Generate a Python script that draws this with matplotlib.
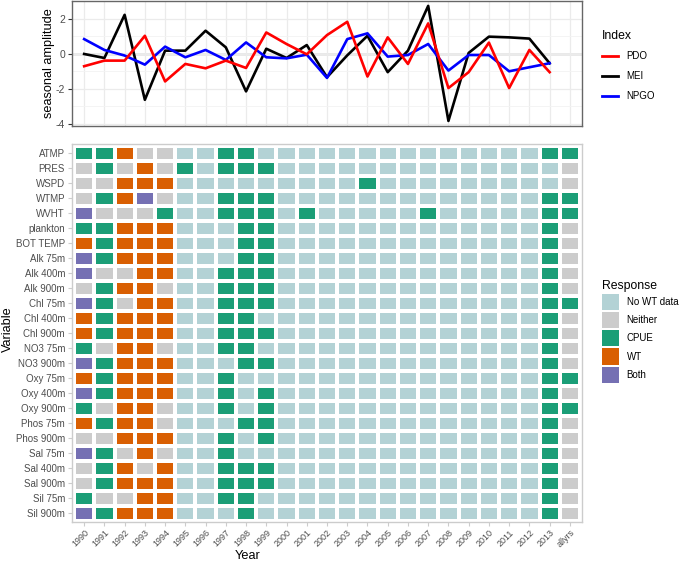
import numpy as np
import matplotlib
matplotlib.use("Agg")
import matplotlib.pyplot as plt
from matplotlib.colors import ListedColormap
from matplotlib.lines import Line2D
from matplotlib.patches import Patch

plt.rcParams['font.family'] = ['Liberation Sans', 'DejaVu Sans']
plt.rcParams['axes.unicode_minus'] = False

# ---- data ----
years = list(range(1990, 2014))
year_labels = [str(y) for y in years] + ['allyrs']

pdo = [-0.70, -0.38, -0.38, 1.04, -1.57, -0.57, -0.82, -0.38, -0.80, 1.23, 0.57, -0.02,
       1.08, 1.84, -1.29, 0.95, -0.57, 1.75, -1.95, -1.04, 0.65, -1.95, 0.23, -1.04]
mei = [0.00, -0.23, 2.24, -2.62, 0.19, 0.19, 1.33, 0.38, -2.14, 0.30, -0.23, 0.51,
       -1.33, -0.08, 1.04, -1.04, 0.19, 2.75, -3.83, 0.06, 0.99, 0.95, 0.88, -0.53]
npgo = [0.85, 0.23, -0.09, -0.61, 0.42, -0.19, 0.23, -0.34, 0.66, -0.19, -0.25, -0.04,
        -1.37, 0.85, 1.18, -0.15, -0.06, 0.57, -0.95, -0.06, -0.06, -0.99, -0.76, -0.53]

variables = ['ATMP', 'PRES', 'WSPD', 'WTMP', 'WVHT', 'plankton', 'BOT TEMP',
             'Alk 75m', 'Alk 400m', 'Alk 900m', 'Chl 75m', 'Chl 400m', 'Chl 900m',
             'NO3 75m', 'NO3 900m', 'Oxy 75m', 'Oxy 400m', 'Oxy 900m', 'Phos 75m',
             'Phos 900m', 'Sal 75m', 'Sal 400m', 'Sal 900m', 'Sil 75m', 'Sil 900m']

# one code per year column (1990..2013, allyrs)
# N = No WT data, X = Neither, C = CPUE, W = WT, B = Both
responses = [
    'CCWXX NNCCNN NNNNNNNNNNNN CC',
    'XCXWX CNCCCN NNNNNNNNNNNN NX',
    'XXWWW NNNNNN NNNCNNNNNNNN NX',
    'XCWBX NNCCCN NNNNNNNNNNNN CC',
    'BXXXC NNCCCN CNNNNNCNNNNN CC',
    'CCWWW NNNCCN NNNNNNNNNNNN CX',
    'WCWWW NNNCCN NNNNNNNNNNNN CX',
    'BCWWW NNNCCN NNNNNNNNNNNN CX',
    'BXXWW NNCCCN NNNNNNNNNNNN CX',
    'XCWWX NNCCCN NNNNNNNNNNNN CX',
    'BCXWW NNCCCN NNNNNNNNNNNN CC',
    'WCWWW NNCCNN NNNNNNNNNNNN CX',
    'WCWWW NNCCCN NNNNNNNNNNNN CX',
    'CXWWX NNCCNN NNNNNNNNNNNN CX',
    'BCWWW NNNCCN NNNNNNNNNNNN CX',
    'WCWWW NNCNNN NNNNNNNNNNNN CC',
    'BCWWW NNCNCN NNNNNNNNNNNN CX',
    'CXWWX NNCNCN NNNNNNNNNNNN CC',
    'WCWWX NNNCCN NNNNNNNNNNNN CX',
    'XXWWW NNCNCN NNNNNNNNNNNN CX',
    'BCXWX NNCNNN NNNNNNNNNNNN CX',
    'XCWXW NNCCCN NNNNNNNNNNNN CX',
    'XCWWW NNCCCN NNNNNNNNNNNN CX',
    'CXXWW NNCCNN NNNNNNNNNNNN CX',
    'BCWWW NNNCNN NNNNNNNNNNNN CX',
]

resp_codes = ['N', 'X', 'C', 'W', 'B']
resp_labels = ['No WT data', 'Neither', 'CPUE', 'WT', 'Both']
resp_colors = ['#b3d2d5', '#cccccc', '#1b9e77', '#d95f02', '#7570b3']

# ---- figure ----
W, H = 685, 563
fig = plt.figure(figsize=(W / 100, H / 100), dpi=100)

def box(l, t, r, b):
    return [l / W, 1 - b / H, (r - l) / W, (b - t) / H]

ax1 = fig.add_axes(box(72, 1, 582, 126))
ax2 = fig.add_axes(box(72, 144, 582, 522))

# top panel: indices
x = np.arange(len(years))
ax1.set_xlim(-0.6, 24.6)
ax1.set_ylim(-4.12, 3.03)
ax1.set_xticks(np.arange(len(year_labels)))
ax1.set_yticks([-4, -2, 0, 2])
ax1.set_yticks([-3, -1, 1], minor=True)
ax1.grid(True, which='major', color='#ebebeb', lw=0.9, zorder=0)
ax1.grid(True, which='minor', axis='y', color='#f3f3f3', lw=0.6, zorder=0)
ax1.axhline(0, color='#555555', lw=0.9, zorder=1)
ax1.plot(x, pdo, color='red', lw=1.9, zorder=3)
ax1.plot(x, mei, color='black', lw=1.9, zorder=2)
ax1.plot(x, npgo, color='blue', lw=1.9, zorder=2.5)
ax1.tick_params(axis='x', length=0, labelbottom=False)
ax1.tick_params(axis='y', which='major', length=3, color='#333333',
                labelsize=7.5, labelcolor='#4d4d4d', pad=2)
ax1.tick_params(axis='y', which='minor', length=0)
for s in ax1.spines.values():
    s.set_color('#666666')
    s.set_linewidth(1.0)
ax1.set_ylabel('seasonal amplitude', fontsize=9.2)
ax1.yaxis.set_label_coords(-0.034, 0.5)

# bottom panel: response tiles
grid = np.array([[resp_codes.index(c) for c in row.replace(' ', '')] for row in responses])
cmap = ListedColormap(resp_colors)
nrow, ncol = grid.shape
ax2.set_xticks(np.arange(ncol))
ax2.set_yticks(np.arange(nrow))
ax2.grid(True, color='#ebebeb', lw=0.6, zorder=0)
ax2.set_axisbelow(True)
ax2.pcolormesh(np.arange(ncol + 1) - 0.5, np.arange(nrow + 1) - 0.5, grid,
               cmap=cmap, vmin=-0.5, vmax=4.5, edgecolors='white', linewidth=1.5,
               zorder=2)
ax2.set_xlim(-0.6, ncol - 0.4)
ax2.set_ylim(nrow - 0.4, -0.6)
ax2.set_xticklabels(year_labels, rotation=45, ha='right', rotation_mode='anchor',
                    fontsize=6.5, color='#4d4d4d')
ax2.set_yticklabels(variables, fontsize=7, color='#4d4d4d')
ax2.tick_params(axis='both', length=3, color='#cccccc', pad=2)
ax2.tick_params(axis='x', pad=1.5)
for s in ax2.spines.values():
    s.set_color('#cccccc')
    s.set_linewidth(1.0)
ax2.set_ylabel('Variable', fontsize=9.2)
ax2.yaxis.set_label_coords(-0.113, 0.51)
ax2.set_xlabel('Year', fontsize=9.2)
ax2.xaxis.set_label_coords(0.345, -0.074)

# legends
idx_handles = [Line2D([], [], color=c, lw=2) for c in ['red', 'black', 'blue']]
leg1 = fig.legend(idx_handles, ['PDO', 'MEI', 'NPGO'], title='Index',
                  loc='upper left', bbox_to_anchor=(593 / W, 1 - 21 / H),
                  frameon=False, fontsize=7, title_fontsize=8.8,
                  handlelength=1.7, handletextpad=0.8, labelspacing=1.0,
                  alignment='left')

resp_handles = [Patch(facecolor=c, edgecolor='none') for c in resp_colors]
leg2 = fig.legend(resp_handles, resp_labels, title='Response',
                  loc='upper left', bbox_to_anchor=(593 / W, 1 - 271 / H),
                  frameon=False, fontsize=7, title_fontsize=8.8,
                  handlelength=1.75, handleheight=2.2, handletextpad=0.8,
                  labelspacing=0.2, alignment='left')

fig.savefig('out.png', dpi=100)
